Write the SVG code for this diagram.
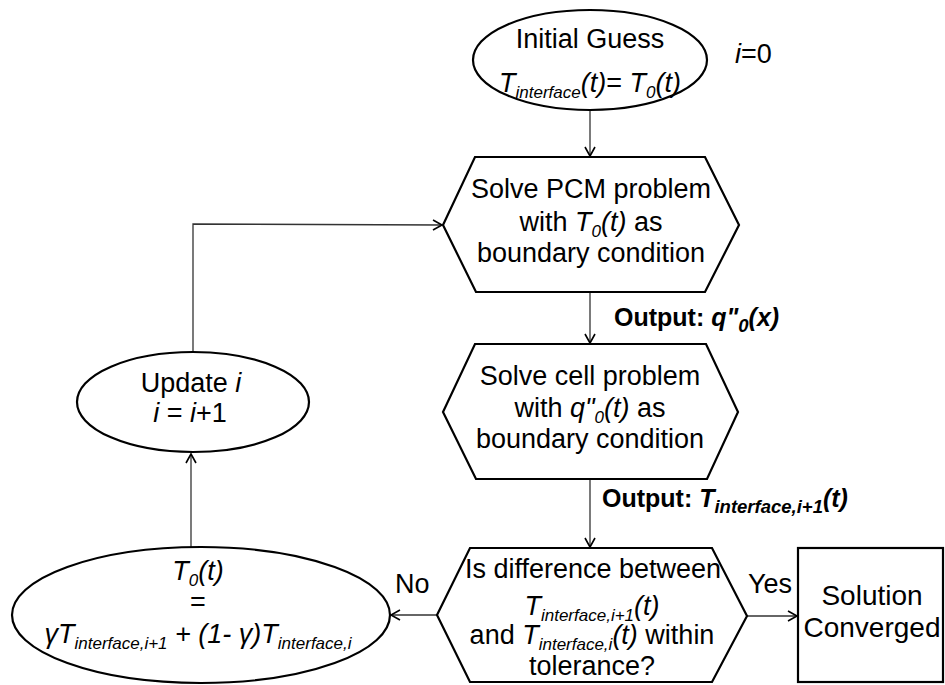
<svg xmlns="http://www.w3.org/2000/svg" width="945" height="685" viewBox="0 0 945 685">
  <style>
    .shape { fill: #ffffff; stroke: #000000; stroke-width: 2.2; }
    .conn { fill: none; stroke: #333333; stroke-width: 1.3; }
    text { font-family: "Liberation Sans", Arial, sans-serif; font-size: 27px; fill: #000000; }
    .c { text-anchor: middle; }
    .i { font-style: italic; }
    .s { font-size: 17px; }
    .lbl { font-weight: bold; font-size: 25px; }
    .lbl .s { font-size: 18.5px; }
  </style>
  <defs>
    <marker id="arrow" markerUnits="userSpaceOnUse" markerWidth="14" markerHeight="14" refX="0" refY="0" viewBox="-12 -7 14 14" orient="auto">
      <path d="M-9,-5 L0,0 L-9,5" fill="none" stroke="#000000" stroke-width="1.6"/>
    </marker>
  </defs>

  <!-- connectors -->
  <g id="connectors">
    <line class="conn" x1="590" y1="110" x2="590" y2="156" marker-end="url(#arrow)"/>
    <line class="conn" x1="590" y1="292" x2="590" y2="343" marker-end="url(#arrow)"/>
    <line class="conn" x1="590" y1="479" x2="590" y2="547" marker-end="url(#arrow)"/>
    <line class="conn" x1="747" y1="616" x2="797" y2="616" marker-end="url(#arrow)"/>
    <line class="conn" x1="437" y1="615" x2="391" y2="615" marker-end="url(#arrow)"/>
    <line class="conn" x1="191" y1="547" x2="191" y2="454" marker-end="url(#arrow)"/>
    <polyline class="conn" points="193,352 193,224 442,225" marker-end="url(#arrow)"/>
    <text class="lbl" x="614" y="326">Output: <tspan class="i">q"</tspan><tspan class="i s" dy="6">0</tspan><tspan class="i" dy="-6">(x)</tspan></text>
    <text class="lbl" x="602" y="507">Output: <tspan class="i">T</tspan><tspan class="i s" dy="6">interface,i+1</tspan><tspan class="i" dy="-6">(t)</tspan></text>
    <text x="748" y="593">Yes</text>
    <text x="395" y="593">No</text>
  </g>

  <!-- start: initial guess -->
  <g id="initial-guess">
    <ellipse class="shape" cx="590" cy="60" rx="117" ry="50"/>
    <text class="c" x="590" y="48">Initial Guess</text>
    <text class="c" x="590" y="92"><tspan class="i">T</tspan><tspan class="i s" dy="6">interface</tspan><tspan class="i" dy="-6">(t)</tspan>= <tspan class="i">T</tspan><tspan class="i s" dy="6">0</tspan><tspan class="i" dy="-6">(t)</tspan></text>
  </g>

  <g id="counter-init">
    <text x="735" y="63"><tspan class="i">i</tspan>=0</text>
  </g>

  <!-- PCM solve step -->
  <g id="solve-pcm">
    <polygon class="shape" points="475,157 705,157 739,225 705,292 476,292 443,225"/>
    <text class="c" x="591" y="198">Solve PCM problem</text>
    <text class="c" x="591" y="231">with <tspan class="i">T</tspan><tspan class="i s" dy="6">0</tspan><tspan class="i" dy="-6">(t)</tspan> as</text>
    <text class="c" x="591" y="262">boundary condition</text>
  </g>

  <!-- cell solve step -->
  <g id="solve-cell">
    <polygon class="shape" points="475,344 706,344 738,412 707,479 476,479 443,412"/>
    <text class="c" x="590" y="385">Solve cell problem</text>
    <text class="c" x="590" y="417">with <tspan class="i">q"</tspan><tspan class="i s" dy="6">0</tspan><tspan class="i" dy="-6">(t)</tspan> as</text>
    <text class="c" x="590" y="448">boundary condition</text>
  </g>

  <!-- convergence check -->
  <g id="check">
    <polygon class="shape" points="470,548 712,548 747,616 712,682 470,682 437,615"/>
    <text class="c" x="593" y="578">Is difference between</text>
    <text class="c" x="592" y="615"><tspan class="i">T</tspan><tspan class="i s" dy="6">interface,i+1</tspan><tspan class="i" dy="-6">(t)</tspan></text>
    <text class="c" x="592" y="644">and <tspan class="i">T</tspan><tspan class="i s" dy="6">interface,i</tspan><tspan class="i" dy="-6">(t)</tspan> within</text>
    <text class="c" x="592" y="675">tolerance?</text>
  </g>

  <!-- end state -->
  <g id="converged">
    <rect class="shape" x="798" y="548" width="145" height="134"/>
    <text class="c" x="872" y="605" style="font-size:28px">Solution</text>
    <text class="c" x="872" y="637" style="font-size:28px">Converged</text>
  </g>

  <!-- relaxation update -->
  <g id="relax">
    <ellipse class="shape" cx="201" cy="615" rx="189" ry="68"/>
    <text class="c" x="198" y="580"><tspan class="i">T</tspan><tspan class="i s" dy="6">0</tspan><tspan class="i" dy="-6">(t)</tspan></text>
    <text class="c" x="198" y="611">=</text>
    <text class="c i" x="198" y="643">γT<tspan class="s" dy="6">interface,i+1</tspan><tspan dy="-6"> + (1- γ)T</tspan><tspan class="s" dy="6">interface,i</tspan></text>
  </g>

  <!-- iteration counter -->
  <g id="update-i">
    <ellipse class="shape" cx="193" cy="402" rx="116" ry="50"/>
    <text class="c" x="191" y="392">Update <tspan class="i">i</tspan></text>
    <text class="c" x="190" y="422"><tspan class="i">i</tspan> = <tspan class="i">i</tspan>+1</text>
  </g>
</svg>
